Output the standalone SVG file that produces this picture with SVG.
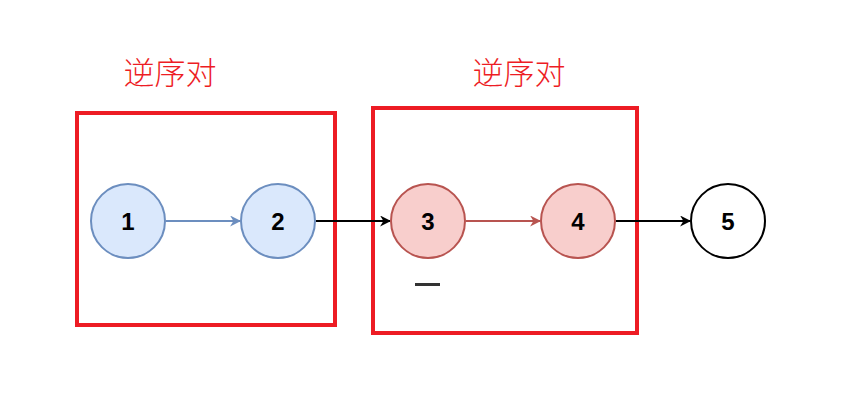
<svg xmlns="http://www.w3.org/2000/svg" width="867" height="402" viewBox="0 0 867 402">
<defs>
<style>
.box{fill:none;stroke:#ed1c24;stroke-width:4}
.lbl{font-family:"Noto Sans CJK SC","Noto Sans CJK JP",sans-serif;font-size:31px;font-weight:300;fill:#ed1c24;text-anchor:middle}
.num{font-family:"Liberation Sans",Arial,sans-serif;font-size:24px;font-weight:bold;fill:#000;text-anchor:middle;dominant-baseline:central}
.blue{fill:#dae8fc;stroke:#6c8ebf;stroke-width:2}
.red{fill:#f8cecc;stroke:#b85450;stroke-width:2}
.plain{fill:#fff;stroke:#000;stroke-width:2}
.e{fill:none;stroke-width:2}
</style>
<marker id="ab" viewBox="0 0 10 10" refX="9" refY="5" markerWidth="11" markerHeight="11" markerUnits="userSpaceOnUse" orient="auto"><path d="M0,0 L10,5 L0,10 L3,5 z" fill="#000"/></marker>
<marker id="abl" viewBox="0 0 10 10" refX="9" refY="5" markerWidth="11" markerHeight="11" markerUnits="userSpaceOnUse" orient="auto"><path d="M0,0 L10,5 L0,10 L3,5 z" fill="#6c8ebf"/></marker>
<marker id="ar" viewBox="0 0 10 10" refX="9" refY="5" markerWidth="11" markerHeight="11" markerUnits="userSpaceOnUse" orient="auto"><path d="M0,0 L10,5 L0,10 L3,5 z" fill="#b85450"/></marker>
</defs>
<rect width="867" height="402" fill="#fff"/>
<g id="group1">
<rect class="box" x="77" y="113" width="258" height="212"/>
<text class="lbl" x="170" y="84">逆序对</text>
</g>
<g id="group2">
<rect class="box" x="373" y="108" width="264" height="225"/>
<text class="lbl" x="519" y="84">逆序对</text>
</g>
<g id="connectors">
<line class="e" x1="166" y1="221" x2="240" y2="221" stroke="#6c8ebf" marker-end="url(#abl)"/>
<line class="e" x1="316" y1="221" x2="390" y2="221" stroke="#000" marker-end="url(#ab)"/>
<line class="e" x1="466" y1="221" x2="540" y2="221" stroke="#b85450" marker-end="url(#ar)"/>
<line class="e" x1="616" y1="221" x2="690" y2="221" stroke="#000" marker-end="url(#ab)"/>
</g>
<g id="n1"><circle class="blue" cx="128" cy="221" r="37"/><text class="num" x="128" y="221">1</text></g>
<g id="n2"><circle class="blue" cx="278" cy="221" r="37"/><text class="num" x="278" y="221">2</text></g>
<g id="n3"><circle class="red" cx="428" cy="221" r="37"/><text class="num" x="428" y="221">3</text></g>
<g id="n4"><circle class="red" cx="578" cy="221" r="37"/><text class="num" x="578" y="221">4</text></g>
<g id="n5"><circle class="plain" cx="728" cy="221" r="37"/><text class="num" x="728" y="221">5</text></g>
<rect x="415" y="283" width="25" height="3" fill="#333"/>
</svg>
